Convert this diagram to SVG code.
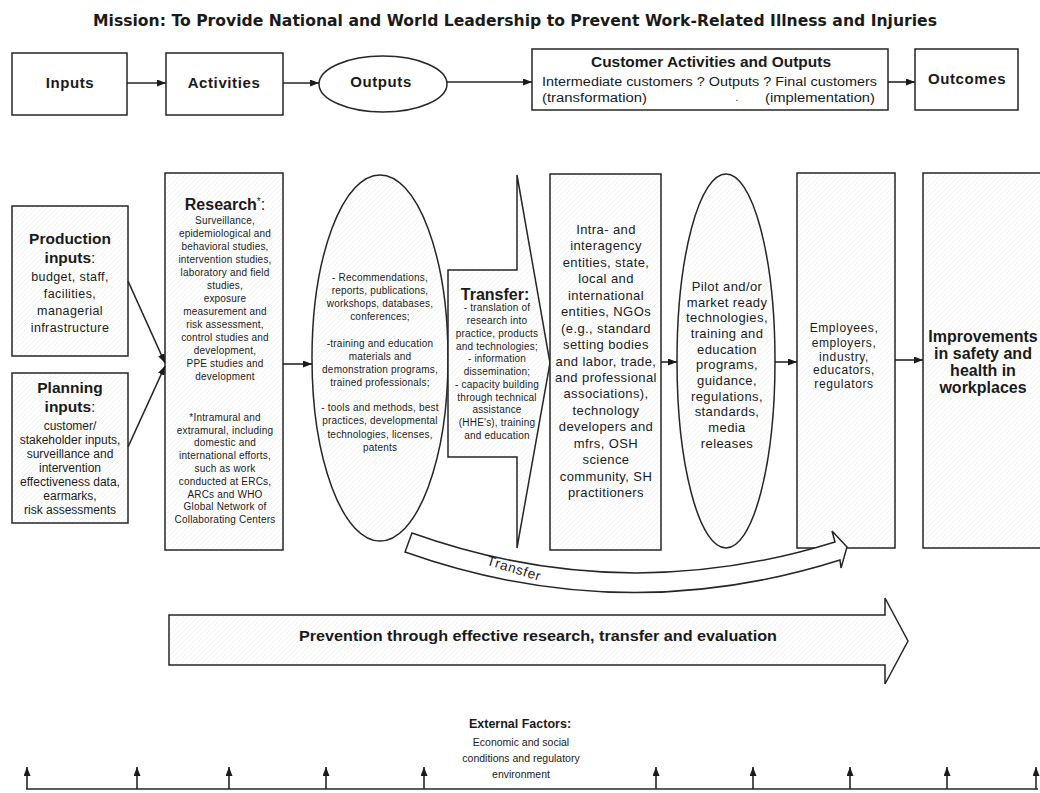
<svg xmlns="http://www.w3.org/2000/svg" width="1040" height="793" viewBox="0 0 1040 793">
<style>
.bx{fill:url(#hatch);stroke:#262626;stroke-width:1.5}
.pl{fill:#fff;stroke:#262626;stroke-width:1.5}
.cn{fill:none;stroke:#262626;stroke-width:1.6}
.ttl{font-family:"DejaVu Sans","Liberation Sans",sans-serif;font-weight:bold;font-size:15px;fill:#1a1a1a}
.hb{font-family:"Liberation Sans",Arial,sans-serif;font-weight:bold;fill:#1a1a1a;text-anchor:middle}
.tx{font-family:"Liberation Sans",Arial,sans-serif;fill:#1a1a1a;text-anchor:middle}
.s10{font-size:10px;letter-spacing:0.2px}
.s12{font-size:12.5px;letter-spacing:0.4px}
.s13{font-size:13px;letter-spacing:0.4px}
.h15{font-size:15px;letter-spacing:0.6px}
.h16{font-size:16px}
</style>
<defs>
<pattern id="hatch" patternUnits="userSpaceOnUse" width="5" height="5">
<rect width="5" height="5" fill="#fff"/>
<path d="M-1,6 L6,-1" stroke="#ececec" stroke-width="0.7"/>
</pattern>
<marker id="ah" viewBox="0 0 9 7" refX="9" refY="3.5" markerWidth="9" markerHeight="7" markerUnits="userSpaceOnUse" orient="auto">
<path d="M0,0 L9,3.5 L0,7 z" fill="#1a1a1a"/>
</marker>
</defs>
<rect width="1040" height="793" fill="#fff"/>

<g id="n-title">
<text class="ttl" x="93" y="26" textLength="844" lengthAdjust="spacingAndGlyphs">Mission: To Provide National and World Leadership to Prevent Work-Related Illness and Injuries</text>
</g>

<g id="n-inputs">
<rect class="pl" x="12" y="53" width="115" height="62"/>
<text class="hb h15" x="70" y="88">Inputs</text>
</g>
<g id="n-activities">
<rect class="pl" x="166" y="53" width="117" height="62"/>
<text class="hb h15" x="224" y="88">Activities</text>
</g>
<g id="n-outputs">
<ellipse class="pl" cx="383" cy="84" rx="64" ry="28"/>
<text class="hb h15" x="381" y="87">Outputs</text>
</g>
<g id="n-customer">
<rect class="pl" x="532" y="49" width="356" height="61"/>
<text class="hb" x="711" y="67" font-size="15" textLength="240" lengthAdjust="spacingAndGlyphs">Customer Activities and Outputs</text>
<text class="tx" x="542" y="86" font-size="12" textLength="335" lengthAdjust="spacingAndGlyphs" style="text-anchor:start">Intermediate customers ?   Outputs ?   Final customers</text>
<text class="tx" x="542" y="102" font-size="12" textLength="105" lengthAdjust="spacingAndGlyphs" style="text-anchor:start">(transformation)</text>
<text class="tx" x="737" y="101" font-size="10">.</text>
<text class="tx" x="875" y="102" font-size="12" textLength="110" lengthAdjust="spacingAndGlyphs" style="text-anchor:end">(implementation)</text>
</g>
<g id="n-outcomes">
<rect class="pl" x="915" y="49" width="103" height="61"/>
<text class="hb h15" x="967" y="84">Outcomes</text>
</g>

<g id="n-production">
<rect class="bx" x="12" y="206" width="116" height="150"/>
<text class="hb" x="70" y="244" font-size="15.5">Production</text>
<text class="hb" x="70" y="263" font-size="15.5">inputs<tspan font-weight="normal">:</tspan></text>
<text class="tx s12" x="70" y="281">budget, staff,</text>
<text class="tx s12" x="70" y="298">facilities,</text>
<text class="tx s12" x="70" y="315">managerial</text>
<text class="tx s12" x="70" y="332">infrastructure</text>
</g>

<g id="n-planning">
<rect class="bx" x="12" y="373" width="116" height="150"/>
<text class="hb" x="70" y="393" font-size="15.5">Planning</text>
<text class="hb" x="70" y="412" font-size="15.5">inputs<tspan font-weight="normal">:</tspan></text>
<g class="tx" font-size="12">
<text x="70" y="430">customer/</text>
<text x="70" y="444">stakeholder inputs,</text>
<text x="70" y="458">surveillance and</text>
<text x="70" y="472">intervention</text>
<text x="70" y="486">effectiveness data,</text>
<text x="70" y="500">earmarks,</text>
<text x="70" y="514">risk assessments</text>
</g>
</g>

<g id="n-research">
<rect class="bx" x="165" y="173" width="118" height="377"/>
<text class="hb" x="225" y="210" font-size="16">Research<tspan font-weight="normal" font-size="10" dy="-5">*</tspan><tspan font-weight="normal" dy="5">:</tspan></text>
<g class="tx s10">
<text x="225" y="224">Surveillance,</text>
<text x="225" y="237">epidemiological and</text>
<text x="225" y="250">behavioral studies,</text>
<text x="225" y="263">intervention studies,</text>
<text x="225" y="276">laboratory and field</text>
<text x="225" y="289">studies,</text>
<text x="225" y="302">exposure</text>
<text x="225" y="315">measurement and</text>
<text x="225" y="328">risk assessment,</text>
<text x="225" y="341">control studies and</text>
<text x="225" y="354">development,</text>
<text x="225" y="367">PPE studies and</text>
<text x="225" y="380">development</text>
<text x="225" y="421">*Intramural and</text>
<text x="225" y="434">extramural, including</text>
<text x="225" y="446">domestic and</text>
<text x="225" y="459">international efforts,</text>
<text x="225" y="472">such as work</text>
<text x="225" y="485">conducted at ERCs,</text>
<text x="225" y="498">ARCs and WHO</text>
<text x="225" y="510">Global Network of</text>
<text x="225" y="523">Collaborating Centers</text>
</g>
</g>

<g id="n-outputs-detail">
<ellipse class="bx" cx="380" cy="358" rx="68" ry="183"/>
<g class="tx s10">
<text x="380" y="281">- Recommendations,</text>
<text x="380" y="294">reports, publications,</text>
<text x="380" y="307">workshops, databases,</text>
<text x="380" y="320">conferences;</text>
<text x="380" y="347">-training and education</text>
<text x="380" y="360">materials and</text>
<text x="380" y="373">demonstration programs,</text>
<text x="380" y="386">trained professionals;</text>
<text x="380" y="411">- tools and methods, best</text>
<text x="380" y="424">practices, developmental</text>
<text x="380" y="438">technologies, licenses,</text>
<text x="380" y="451">patents</text>
</g>
</g>

<g id="n-transfer">
<path class="bx" d="M448,270 L517,270 L517,175 L550,363 L517,548 L517,457 L448,457 Z"/>
<text class="hb" x="495" y="300" font-size="16">Transfer:</text>
<g class="tx s10">
<text x="497" y="311">- translation of</text>
<text x="497" y="324">research into</text>
<text x="497" y="337">practice, products</text>
<text x="497" y="350">and technologies;</text>
<text x="497" y="362">- information</text>
<text x="497" y="375">dissemination;</text>
<text x="497" y="388">- capacity building</text>
<text x="497" y="401">through technical</text>
<text x="497" y="413">assistance</text>
<text x="497" y="426">(HHE's), training</text>
<text x="497" y="439">and education</text>
</g>
</g>

<g id="n-intermediate">
<rect class="bx" x="550" y="174" width="111" height="376"/>
<g class="tx s13">
<text x="606" y="234">Intra- and</text>
<text x="606" y="250">interagency</text>
<text x="606" y="267">entities, state,</text>
<text x="606" y="283">local and</text>
<text x="606" y="300">international</text>
<text x="606" y="316">entities, NGOs</text>
<text x="606" y="333">(e.g., standard</text>
<text x="606" y="349">setting bodies</text>
<text x="606" y="366">and labor, trade,</text>
<text x="606" y="382">and professional</text>
<text x="606" y="398">associations),</text>
<text x="606" y="415">technology</text>
<text x="606" y="431">developers and</text>
<text x="606" y="448">mfrs, OSH</text>
<text x="606" y="464">science</text>
<text x="606" y="481">community, SH</text>
<text x="606" y="497">practitioners</text>
</g>
</g>

<g id="n-final">
<ellipse class="bx" cx="726" cy="361" rx="49" ry="187"/>
<g class="tx s13">
<text x="727" y="291">Pilot and/or</text>
<text x="727" y="307">market ready</text>
<text x="727" y="322">technologies,</text>
<text x="727" y="338">training and</text>
<text x="727" y="354">education</text>
<text x="727" y="369">programs,</text>
<text x="727" y="385">guidance,</text>
<text x="727" y="401">regulations,</text>
<text x="727" y="416">standards,</text>
<text x="727" y="432">media</text>
<text x="727" y="448">releases</text>
</g>
</g>

<g id="n-employees">
<rect class="bx" x="797" y="173" width="98" height="375"/>
<g class="tx" font-size="12" letter-spacing="0.6">
<text x="844" y="332">Employees,</text>
<text x="844" y="347">employers,</text>
<text x="844" y="361">industry,</text>
<text x="844" y="374">educators,</text>
<text x="844" y="388">regulators</text>
</g>
</g>

<g id="n-improvements">
<rect class="bx" x="923" y="173" width="130" height="375"/>
<text class="hb h16" x="983" y="342">Improvements</text>
<text class="hb h16" x="983" y="359">in safety and</text>
<text class="hb h16" x="983" y="376">health in</text>
<text class="hb h16" x="983" y="393">workplaces</text>
</g>

<g id="n-transfer-curve">
<path class="pl" d="M412,533 Q622,608 835,542 L832,531 L847,547 L841,568 L840,560 Q622,629 405,552 Z"/>
<text class="tx" x="514" y="573" font-size="13.5" letter-spacing="0.8" transform="rotate(17 514 569)">Transfer</text>
</g>

<g id="n-prevention">
<path class="bx" d="M169,615 L885,615 L885,598 L908,641 L885,684 L885,665 L169,665 Z"/>
<text class="hb" x="538" y="641" font-size="14" textLength="478" lengthAdjust="spacingAndGlyphs">Prevention through effective research, transfer and evaluation</text>
</g>

<g id="n-external">
<text class="hb" x="520" y="728" font-size="12.5">External Factors:</text>
<text class="tx" x="521" y="746" font-size="10.5">Economic and social</text>
<text class="tx" x="521" y="762" font-size="10.5">conditions and regulatory</text>
<text class="tx" x="521" y="778" font-size="10.5">environment</text>
</g>

<g id="connectors">
<line class="cn" x1="127" y1="83" x2="166" y2="83" marker-end="url(#ah)"/>
<line class="cn" x1="283" y1="83" x2="319" y2="83" marker-end="url(#ah)"/>
<line class="cn" x1="447" y1="82" x2="532" y2="82" marker-end="url(#ah)"/>
<line class="cn" x1="888" y1="82" x2="915" y2="82" marker-end="url(#ah)"/>
<line class="cn" x1="128" y1="281" x2="165" y2="363" stroke-width="2" marker-end="url(#ah)"/>
<line class="cn" x1="128" y1="447" x2="165" y2="366" stroke-width="2" marker-end="url(#ah)"/>
<line class="cn" x1="283" y1="364" x2="312" y2="364" stroke-width="2" marker-end="url(#ah)"/>
<line class="cn" x1="661" y1="362" x2="677" y2="362" stroke-width="2" marker-end="url(#ah)"/>
<line class="cn" x1="775" y1="362" x2="797" y2="362" stroke-width="2" marker-end="url(#ah)"/>
<line class="cn" x1="895" y1="360" x2="923" y2="360" stroke-width="2" marker-end="url(#ah)"/>
<line class="cn" x1="26" y1="789" x2="1038" y2="789"/>
<line class="cn" x1="27" y1="789" x2="27" y2="767" marker-end="url(#ah)"/>
<line class="cn" x1="137" y1="789" x2="137" y2="767" marker-end="url(#ah)"/>
<line class="cn" x1="229" y1="789" x2="229" y2="767" marker-end="url(#ah)"/>
<line class="cn" x1="326" y1="789" x2="326" y2="767" marker-end="url(#ah)"/>
<line class="cn" x1="424" y1="789" x2="424" y2="767" marker-end="url(#ah)"/>
<line class="cn" x1="656" y1="789" x2="656" y2="767" marker-end="url(#ah)"/>
<line class="cn" x1="753" y1="789" x2="753" y2="767" marker-end="url(#ah)"/>
<line class="cn" x1="850" y1="789" x2="850" y2="767" marker-end="url(#ah)"/>
<line class="cn" x1="947" y1="789" x2="947" y2="767" marker-end="url(#ah)"/>
<line class="cn" x1="1036" y1="789" x2="1036" y2="767" marker-end="url(#ah)"/>
</g>
</svg>
